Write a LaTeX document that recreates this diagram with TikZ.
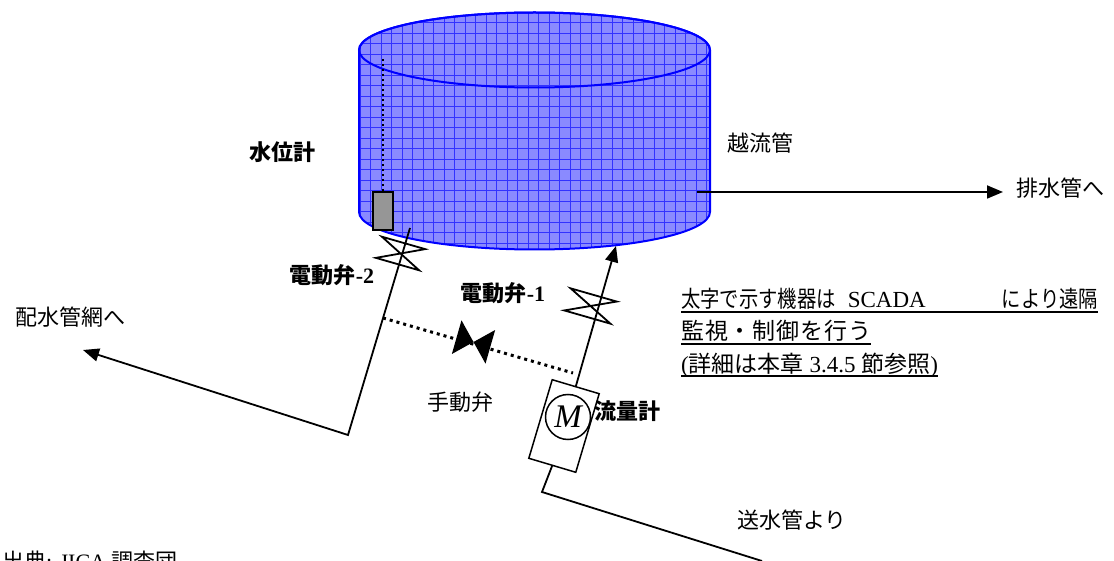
\documentclass[tikz,border=0pt]{standalone}
\usepackage{fontspec}
\setmainfont{Liberation Serif}
\newfontfamily\jp{Noto Sans CJK JP}
\usetikzlibrary{arrows.meta}

\definecolor{tankfill}{RGB}{138,138,255}
\definecolor{tankgrid}{RGB}{50,50,255}
\definecolor{tankedge}{RGB}{0,0,255}
\definecolor{gaugegray}{RGB}{150,150,150}

% Latin text inside Japanese labels
\newcommand\rmtxt[1]{{\rmfamily #1}}
\newcommand\rmbig[1]{{\rmfamily\fontsize{23}{25}\selectfont #1}}
% condensed Japanese run for the first note line
\newcommand\jpnarrow[1]{\scalebox{0.84}[1]{#1}}

\tikzset{
  pipe/.style={line width=1.8pt, line join=miter},
  flow/.style={pipe, -{Triangle[length=16pt,width=13pt]}},
  plainlbl/.style={font=\jp\fontsize{22}{24}\selectfont, inner sep=0pt},
  boldlbl/.style={font=\jp\bfseries\fontsize{22}{24}\selectfont, inner sep=0pt},
  notetxt/.style={font=\jp\fontsize{23}{25}\selectfont, inner sep=0pt, anchor=base west},
  uline/.style={line width=1.4pt},
  valveline/.style={line width=1.8pt, line join=miter},
  gauge/.style={draw, line width=1.5pt, fill=gaugegray, minimum width=20pt, minimum height=38pt, inner sep=0pt},
  gaugewire/.style={line width=2.7pt, dash pattern=on 2.7pt off 2.3pt},
  bypass/.style={line width=3pt, dash pattern=on 3pt off 4pt},
  meterbox/.style={draw, line width=1.5pt, minimum width=82pt, minimum height=49pt, inner sep=0pt},
  motor/.style={draw, circle, line width=1.5pt, minimum size=45pt, inner sep=0pt,
    font=\rmfamily\itshape\fontsize{33}{33}\selectfont},
  % gate valve: two triangles meeting on the pipe axis (local x = pipe direction)
  pics/gatevalve/.style 2 args={code={
    \draw[valveline] (-#1,-#2) -- (-#1,#2) -- (#1,-#2) -- (#1,#2) -- cycle;}},
  pics/handvalve/.style 2 args={code={
    \fill (-#1,-#2) -- (-#1,#2) -- (#1,-#2) -- (#1,#2) -- cycle;}},
}

\begin{document}
\begin{tikzpicture}[x=1pt,y=-1pt]
\useasboundingbox (0,0) rectangle (1114,561);

% ---- reservoir tank ----
\begin{scope}
  \path[fill=tankfill] (359,50) -- (359,212)
    arc[start angle=180,end angle=0,x radius=175.5,y radius=37.5] -- (710,50)
    arc[start angle=0,end angle=-180,x radius=175.5,y radius=37.5] -- cycle;
  \clip (359,50) -- (359,212)
    arc[start angle=180,end angle=0,x radius=175.5,y radius=37.5] -- (710,50)
    arc[start angle=0,end angle=-180,x radius=175.5,y radius=37.5] -- cycle;
  \foreach \gx in {360,370.5,...,712} \draw[tankgrid, line width=0.6pt] (\gx,5) -- (\gx,255);
  \foreach \gy in {12,22.5,...,255} \draw[tankgrid, line width=0.6pt] (355,\gy) -- (715,\gy);
\end{scope}
\draw[tankedge, line width=2pt] (359,50) -- (359,212)
    arc[start angle=180,end angle=0,x radius=175.5,y radius=37.5] -- (710,50)
    arc[start angle=0,end angle=-180,x radius=175.5,y radius=37.5] -- cycle;
\draw[tankedge, line width=2pt] (534.5,50) ellipse[x radius=175.5, y radius=37.5];

% ---- key points of the piping ----
\coordinate (J2) at (348,435);
\coordinate (T2) at (410,228);
\coordinate (L2) at (83,350);
\coordinate (T1) at (616,246);
\coordinate (B1) at (542,492);
\coordinate (E1) at (762,561);
\coordinate (OF0) at (697,192);
\coordinate (OF1) at (1003,192);
\coordinate (D0) at (383,318);
\coordinate (D1) at (573,373);
\coordinate (LT) at (383,57);

% level gauge
\node[gauge] (lg) at (383,211) {};
\draw[gaugewire] (lg.north) -- (LT);

% flow meter
\node[meterbox, rotate=73.4] (fm) at (564,426) {};
\node[motor] (mot) at (568,417) {M};

% pipes
\draw[flow] (T2) -- (J2) -- (L2);
\draw[flow] (fm.east) -- (T1);
\draw[pipe] (fm.west) -- (B1) -- (E1);
\draw[flow] (OF0) -- (OF1);

% bypass with hand valve
\draw[bypass] (D0) -- (D1);
\pic[rotate=-16] (MV) at (473.5,342) {handvalve={17.5}{17.5}};

% motorised valves
\pic[rotate=74] (V2) at (400.5,253.5) {gatevalve={11}{22.5}};
\pic[rotate=74] (V1) at (590.5,306) {gatevalve={11.5}{24}};

% ---- labels ----
\node[boldlbl] (lgl) at (282,152) {水位計};
\node[boldlbl] (v2l) at (332,275) {電動弁\rmtxt{-2}};
\node[boldlbl] (v1l) at (503,293) {電動弁\rmtxt{-1}};
\node[boldlbl] (fml) at (627,411) {流量計};
\node[plainlbl] (mvl) at (460,402) {手動弁};
\node[plainlbl] (ofl) at (760,143) {越流管};
\node[plainlbl] (drl) at (1060,188) {排水管へ};
\node[plainlbl] (dsl) at (71,317) {配水管網へ};
\node[plainlbl] (trl) at (792,520) {送水管より};
\node[plainlbl, anchor=base west] (src) at (2,569) {出典\rmtxt{: JICA} 調査団};

% ---- note ----
\node[notetxt] (n1) at (681,308) {\hbox to 417pt{\jpnarrow{太字で示す機器は}\hskip 12pt\rmbig{SCADA}\hfil\jpnarrow{により遠隔}}};
\node[notetxt] (n2) at (681,340) {\hbox to 190pt{監\hfil 視\hfil ・\hfil 制\hfil 御\hfil を\hfil 行\hfil う}};
\node[notetxt] (n3) at (681,372) {\rmbig{(}詳細は本章\rmbig{ 3.4.5 }節参照\rmbig{)}};
\draw[uline] ([yshift=-4pt]n1.base west) -- ([yshift=-4pt]n1.base east);
\draw[uline] ([yshift=-4pt]n2.base west) -- ([yshift=-4pt]n2.base east);
\draw[uline] ([yshift=-4pt]n3.base west) -- ([yshift=-4pt]n3.base east);
\end{tikzpicture}
\end{document}
